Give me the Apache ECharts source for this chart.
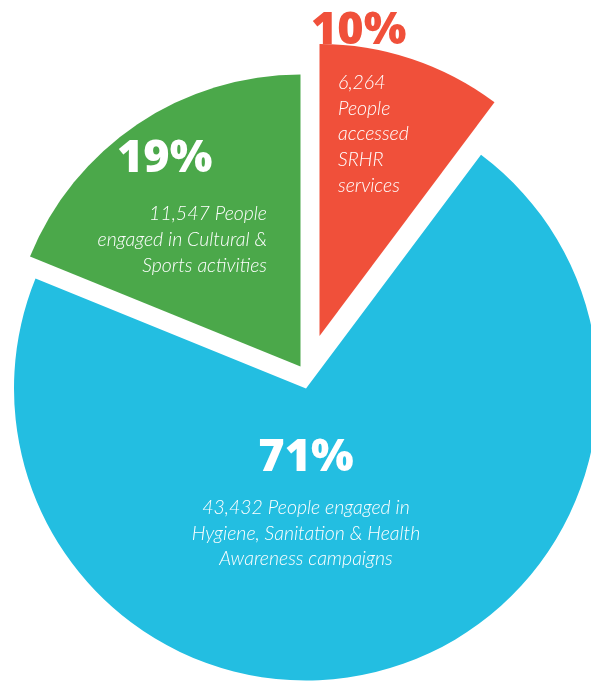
<!DOCTYPE html>
<html>
<head>
<meta charset="utf-8">
<script src="https://cdn.jsdelivr.net/npm/echarts@6/dist/echarts.min.js"></script>
<style>
  html, body { margin: 0; padding: 0; background: #ffffff; }
  #chart { width: 591px; height: 681px; }
</style>
</head>
<body>
<div id="chart"></div>
<script>
// Reach figures per programme area (clockwise from 12 o'clock)
const categories = ['SRHR services', 'Hygiene, Sanitation & Health Awareness campaigns', 'Cultural & Sports activities'];
const people = [6264, 43432, 11547];
// Wording that follows each number in the slice captions
const captionPhrases = [
  ['People', 'accessed', 'SRHR', 'services'],
  ['People engaged in', 'Hygiene, Sanitation & Health', 'Awareness campaigns'],
  ['People', 'engaged in Cultural &', 'Sports activities']
];

const sliceColors = ['#F0503A', '#23BEE1', '#4BA84A'];
// Each slice is pulled away from the pie's centre by a different amount
const sliceCenters = [[319.5, 336], [306, 388.5], [300.5, 366.5]];
const R = 292;

const total = people.reduce((a, b) => a + b, 0);
const pct = people.map(v => Math.round(v / total * 100) + '%');
const fmt = v => v.toLocaleString('en-US');

// One pie series per slice: the whole dataset keeps the angles, only one slice is painted.
const series = sliceCenters.map((c, s) => ({
  type: 'pie',
  center: c,
  radius: [0, R],
  startAngle: 90,
  clockwise: true,
  silent: true,
  animation: false,
  z: 2,
  label: { show: false },
  labelLine: { show: false },
  emphasis: { disabled: true },
  data: people.map((v, i) => ({
    name: categories[i],
    value: v,
    itemStyle: { color: i === s ? sliceColors[i] : 'rgba(0,0,0,0)', borderWidth: 0 }
  }))
}));

const pctFont = { fontFamily: 'Open Sans', fontWeight: 800, fontSize: 45 };
const capFont = { fontFamily: 'Lato', fontWeight: 300, fontStyle: 'italic', fontSize: 19.5 };

function line(text, x, y, align, fill, font) {
  return {
    type: 'text',
    silent: true,
    z: 100,
    style: Object.assign({
      text: text, x: x, y: y, align: align, verticalAlign: 'bottom', fill: fill
    }, font)
  };
}

const captions = [
  [fmt(people[0])].concat(captionPhrases[0]),
  [fmt(people[1]) + ' ' + captionPhrases[1][0]].concat(captionPhrases[1].slice(1)),
  [fmt(people[2]) + ' ' + captionPhrases[2][0]].concat(captionPhrases[2].slice(1))
];

const graphics = [];
// percentage headlines
graphics.push(line(pct[0], 311, 53.5, 'left', sliceColors[0], pctFont));
graphics.push(line(pct[2], 117, 181.5, 'left', '#ffffff', pctFont));
graphics.push(line(pct[1], 306, 480.5, 'center', '#ffffff', pctFont));
// captions
captions[0].forEach((t, k) => graphics.push(line(t, 338, 92.5 + k * 25.8, 'left', '#ffffff', capFont)));
captions[2].forEach((t, k) => graphics.push(line(t, 267, 224.2 + k * 25.9, 'right', '#ffffff', capFont)));
captions[1].forEach((t, k) => graphics.push(line(t, 306, 518.2 + k * 25.5, 'center', '#ffffff', capFont)));

const chart = echarts.init(document.getElementById('chart'), null, { renderer: 'canvas' });
chart.setOption({
  backgroundColor: '#ffffff',
  animation: false,
  series: series,
  graphic: { elements: graphics }
});
</script>
</body>
</html>
